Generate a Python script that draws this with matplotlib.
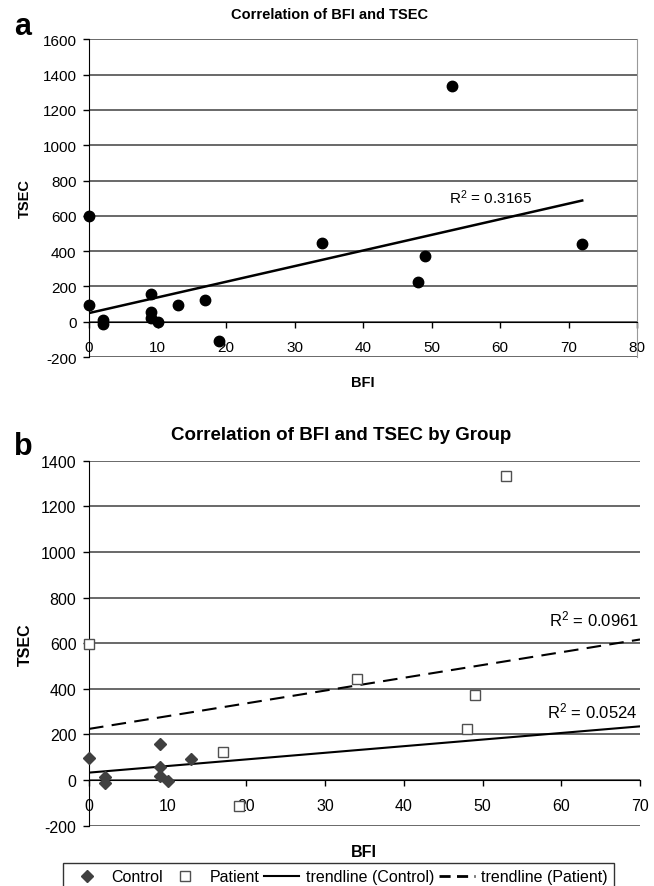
import numpy as np
import matplotlib.pyplot as plt
from matplotlib.lines import Line2D

plt.rcParams['font.family'] = ['Liberation Sans', 'DejaVu Sans']
plt.rcParams['mathtext.fontset'] = 'custom'
plt.rcParams['mathtext.rm'] = 'Liberation Sans'
plt.rcParams['mathtext.it'] = 'Liberation Sans'
plt.rcParams['axes.unicode_minus'] = False

# values
control_bfi = [0, 2, 2, 9, 9, 9, 10, 13]
control_tsec = [95, 12, -12, 157, 57, 20, -3, 92]
patient_bfi = [0, 17, 19, 34, 48, 49, 53, 72]
patient_tsec = [598, 125, -112, 445, 226, 371, 1335, 442]

all_bfi = np.array(control_bfi + patient_bfi)
all_tsec = np.array(control_tsec + patient_tsec)

W, H = 654, 887
fig = plt.figure(figsize=(W / 100, H / 100), dpi=100)


def px_axes(left, top, right, bottom):
    return fig.add_axes([left / W, 1 - bottom / H, (right - left) / W, (bottom - top) / H])


def style(ax, xmax, ymax, fs, right_border):
    ax.set_xlim(0, xmax)
    ax.set_ylim(-200, ymax)
    ax.set_xticks(np.arange(0, xmax + 1, 10))
    ax.set_yticks(np.arange(-200, ymax + 1, 200))
    ax.grid(axis='y', color='#404040', lw=1.1)
    ax.set_axisbelow(True)
    ax.spines['bottom'].set_position(('data', 0))
    ax.spines['top'].set_visible(False)
    if right_border:
        ax.spines['right'].set_color('#999999')
    else:
        ax.spines['right'].set_visible(False)
    ax.tick_params(axis='both', direction='out', length=4, width=1, colors='black')
    ax.tick_params(axis='x', labelsize=fs, pad=9)
    ax.tick_params(axis='y', labelsize=fs, pad=5)


def ftext(x, y, s, **kw):
    fig.text(x / W, 1 - y / H, s, **kw)


# panel a
ax1 = px_axes(89, 40.3, 637, 358)
style(ax1, 80, 1600, 11, True)
ax1.plot(all_bfi, all_tsec, 'o', color='black', ms=7.5, zorder=3, clip_on=False)
m, b = np.polyfit(all_bfi, all_tsec, 1)
xl = np.array([all_bfi.min(), all_bfi.max()])
ax1.plot(xl, m * xl + b, color='black', lw=1.8, zorder=2)
ax1.text(52.6, 672, 'R$^2$ = 0.3165', fontsize=11, ha='left', va='baseline')

ftext(329.5, 15, 'Correlation of BFI and TSEC', fontsize=10.5, fontweight='bold',
      ha='center', va='center')
ftext(25, 199, 'TSEC', fontsize=10.5, fontweight='bold', rotation=90, ha='center', va='center')
ftext(363, 383, 'BFI', fontsize=10.5, fontweight='bold', ha='center', va='center')
ftext(14, 35, 'a', fontsize=22, fontweight='bold', ha='left', va='baseline')

# panel b (x axis ends at 70, so the point at 72 is not shown)
ax2 = px_axes(89, 461.7, 640, 826.7)
style(ax2, 70, 1400, 11.5, False)
ax2.plot(control_bfi, control_tsec, 'D', color='#404040', ms=6.5, zorder=3, clip_on=False)
pb = np.array(patient_bfi)
pt = np.array(patient_tsec)
shown = pb <= 70
ax2.plot(pb[shown], pt[shown], 's', mfc='white', mec='#505050', mew=1, ms=7.5,
         zorder=3, clip_on=False)
xr = np.array([0, 70])
mc, bc = np.polyfit(control_bfi, control_tsec, 1)
mp, bp = np.polyfit(patient_bfi, patient_tsec, 1)
ax2.plot(xr, mc * xr + bc, color='black', lw=1.5, zorder=2)
ax2.plot(xr, mp * xr + bp, color='black', lw=1.5, ls=(0, (7, 4)), zorder=2)
ax2.text(58.4, 677, 'R$^2$ = 0.0961', fontsize=12, ha='left', va='baseline')
ax2.text(58.2, 273, 'R$^2$ = 0.0524', fontsize=12, ha='left', va='baseline')

ftext(341, 436, 'Correlation of BFI and TSEC by Group', fontsize=13.5, fontweight='bold',
      ha='center', va='center')
ftext(25, 645, 'TSEC', fontsize=11.5, fontweight='bold', rotation=90, ha='center', va='center')
ftext(364, 853, 'BFI', fontsize=11.5, fontweight='bold', ha='center', va='center')
ftext(14, 455, 'b', fontsize=22, fontweight='bold', ha='left', va='baseline')

handles = [
    Line2D([], [], marker='D', color='#404040', ls='none', ms=6),
    Line2D([], [], marker='s', mfc='white', mec='#505050', ls='none', ms=7),
    Line2D([], [], color='black', lw=1.5),
    Line2D([], [], color='black', lw=2, ls=(0, (4, 2.3))),
]
labels = ['Control', 'Patient', 'trendline (Control)', 'trendline (Patient)']
leg = fig.legend(handles, labels, loc='upper left', ncol=4, mode='expand',
                 bbox_to_anchor=(63 / W, 1 - 864 / H, 551 / W, 0), borderaxespad=0,
                 fontsize=11.5, frameon=True, fancybox=False, edgecolor='black',
                 handlelength=2.2, handletextpad=0.4, columnspacing=0.5)
leg.get_frame().set_linewidth(1)

fig.savefig('out.png', dpi=100)
